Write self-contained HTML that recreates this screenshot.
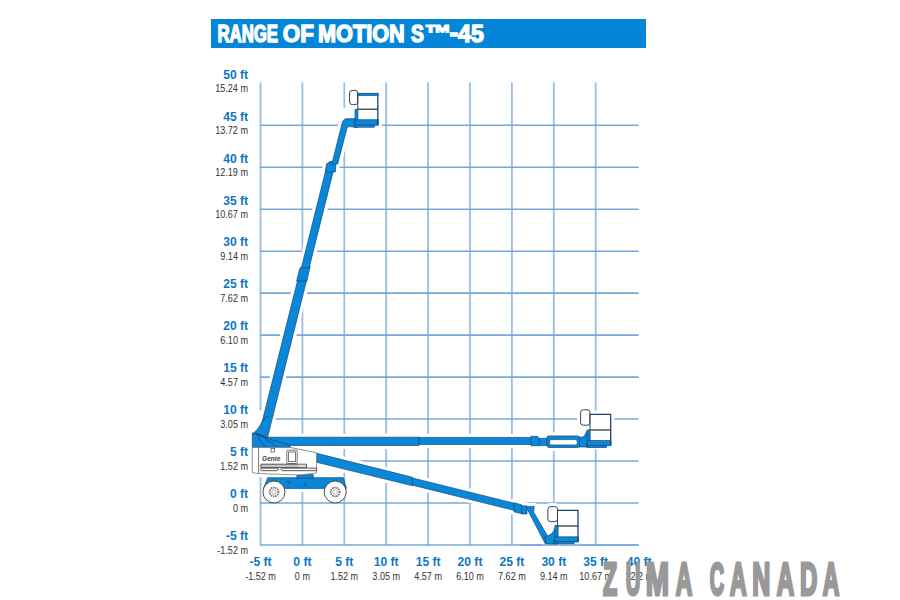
<!DOCTYPE html>
<html><head><meta charset="utf-8"><title>Range of Motion S-45</title>
<style>
html,body{margin:0;padding:0;background:#fff;width:900px;height:600px;overflow:hidden}
svg{display:block}
.ft{font-family:"Liberation Sans",sans-serif;font-weight:bold;font-size:12.5px;fill:#0c77c6}
.m{font-family:"Liberation Sans",sans-serif;font-size:10.8px;fill:#333}
text.nss,.nss text{vector-effect:non-scaling-stroke}
</style></head><body>
<svg width="900" height="600" viewBox="0 0 900 600"><rect x="211" y="19" width="435" height="29" fill="#0386d8"/><g font-family="Liberation Sans, sans-serif" fill="#fff" stroke="#fff" stroke-width="1.3" style="font-kerning:none" class="nss"><text transform="translate(217.43 41.65) scale(0.16774 0.24128)" font-size="100" font-weight="bold" >RANGE</text><text transform="translate(282.73 41.65) scale(0.22425 0.24128)" font-size="100" font-weight="bold" >OF</text><text transform="translate(318.00 41.65) scale(0.21706 0.24128)" font-size="100" font-weight="bold" >MOTION</text><text transform="translate(411.09 41.65) scale(0.19362 0.24128)" font-size="100" font-weight="bold" >S</text><text transform="translate(424.53 40.83) scale(0.27331 0.23004)" font-size="100" font-weight="bold" stroke-width="1.4">™</text><text transform="translate(449.52 40.98) scale(0.26388 0.25180)" font-size="100" font-weight="bold" >-</text><text transform="translate(458.10 41.65) scale(0.23192 0.23837)" font-size="100" font-weight="bold" >45</text></g><g stroke="#98bee6" stroke-width="1.8"><line x1="260.50" y1="82.6" x2="260.50" y2="545.6"/><line x1="302.40" y1="82.6" x2="302.40" y2="545.6"/><line x1="344.30" y1="82.6" x2="344.30" y2="545.6"/><line x1="386.20" y1="82.6" x2="386.20" y2="545.6"/><line x1="428.10" y1="82.6" x2="428.10" y2="545.6"/><line x1="470.00" y1="82.6" x2="470.00" y2="545.6"/><line x1="511.90" y1="82.6" x2="511.90" y2="545.6"/><line x1="553.80" y1="82.6" x2="553.80" y2="545.6"/><line x1="595.70" y1="82.6" x2="595.70" y2="545.6"/></g><g stroke="#76a8db" stroke-width="1.6"><line x1="259.90" y1="544.97" x2="638.7" y2="544.97"/><line x1="259.90" y1="503.00" x2="638.7" y2="503.00"/><line x1="259.90" y1="461.03" x2="638.7" y2="461.03"/><line x1="259.90" y1="419.06" x2="638.7" y2="419.06"/><line x1="259.90" y1="377.09" x2="638.7" y2="377.09"/><line x1="259.90" y1="335.12" x2="638.7" y2="335.12"/><line x1="259.90" y1="293.15" x2="638.7" y2="293.15"/><line x1="259.90" y1="251.18" x2="638.7" y2="251.18"/><line x1="259.90" y1="209.21" x2="638.7" y2="209.21"/><line x1="259.90" y1="167.24" x2="638.7" y2="167.24"/><line x1="259.90" y1="125.27" x2="638.7" y2="125.27"/></g><g><text transform="translate(248 540.27) scale(0.965 1.08)" text-anchor="end" class="ft">-5 ft</text><text transform="translate(248 554.07) scale(0.84 1)" text-anchor="end" class="m">-1.52 m</text><text transform="translate(248 498.30) scale(0.965 1.08)" text-anchor="end" class="ft">0 ft</text><text transform="translate(248 512.10) scale(0.84 1)" text-anchor="end" class="m">0 m</text><text transform="translate(248 456.33) scale(0.965 1.08)" text-anchor="end" class="ft">5 ft</text><text transform="translate(248 470.13) scale(0.84 1)" text-anchor="end" class="m">1.52 m</text><text transform="translate(248 414.36) scale(0.965 1.08)" text-anchor="end" class="ft">10 ft</text><text transform="translate(248 428.16) scale(0.84 1)" text-anchor="end" class="m">3.05 m</text><text transform="translate(248 372.39) scale(0.965 1.08)" text-anchor="end" class="ft">15 ft</text><text transform="translate(248 386.19) scale(0.84 1)" text-anchor="end" class="m">4.57 m</text><text transform="translate(248 330.42) scale(0.965 1.08)" text-anchor="end" class="ft">20 ft</text><text transform="translate(248 344.22) scale(0.84 1)" text-anchor="end" class="m">6.10 m</text><text transform="translate(248 288.45) scale(0.965 1.08)" text-anchor="end" class="ft">25 ft</text><text transform="translate(248 302.25) scale(0.84 1)" text-anchor="end" class="m">7.62 m</text><text transform="translate(248 246.48) scale(0.965 1.08)" text-anchor="end" class="ft">30 ft</text><text transform="translate(248 260.28) scale(0.84 1)" text-anchor="end" class="m">9.14 m</text><text transform="translate(248 204.51) scale(0.965 1.08)" text-anchor="end" class="ft">35 ft</text><text transform="translate(248 218.31) scale(0.84 1)" text-anchor="end" class="m">10.67 m</text><text transform="translate(248 162.54) scale(0.965 1.08)" text-anchor="end" class="ft">40 ft</text><text transform="translate(248 176.34) scale(0.84 1)" text-anchor="end" class="m">12.19 m</text><text transform="translate(248 120.57) scale(0.965 1.08)" text-anchor="end" class="ft">45 ft</text><text transform="translate(248 134.37) scale(0.84 1)" text-anchor="end" class="m">13.72 m</text><text transform="translate(248 78.60) scale(0.965 1.08)" text-anchor="end" class="ft">50 ft</text><text transform="translate(248 92.40) scale(0.84 1)" text-anchor="end" class="m">15.24 m</text><text transform="translate(260.50 566.2) scale(0.965 1.08)" text-anchor="middle" class="ft">-5 ft</text><text transform="translate(260.50 579.7) scale(0.84 1)" text-anchor="middle" class="m">-1.52 m</text><text transform="translate(302.40 566.2) scale(0.965 1.08)" text-anchor="middle" class="ft">0 ft</text><text transform="translate(302.40 579.7) scale(0.84 1)" text-anchor="middle" class="m">0 m</text><text transform="translate(344.30 566.2) scale(0.965 1.08)" text-anchor="middle" class="ft">5 ft</text><text transform="translate(344.30 579.7) scale(0.84 1)" text-anchor="middle" class="m">1.52 m</text><text transform="translate(386.20 566.2) scale(0.965 1.08)" text-anchor="middle" class="ft">10 ft</text><text transform="translate(386.20 579.7) scale(0.84 1)" text-anchor="middle" class="m">3.05 m</text><text transform="translate(428.10 566.2) scale(0.965 1.08)" text-anchor="middle" class="ft">15 ft</text><text transform="translate(428.10 579.7) scale(0.84 1)" text-anchor="middle" class="m">4.57 m</text><text transform="translate(470.00 566.2) scale(0.965 1.08)" text-anchor="middle" class="ft">20 ft</text><text transform="translate(470.00 579.7) scale(0.84 1)" text-anchor="middle" class="m">6.10 m</text><text transform="translate(511.90 566.2) scale(0.965 1.08)" text-anchor="middle" class="ft">25 ft</text><text transform="translate(511.90 579.7) scale(0.84 1)" text-anchor="middle" class="m">7.62 m</text><text transform="translate(553.80 566.2) scale(0.965 1.08)" text-anchor="middle" class="ft">30 ft</text><text transform="translate(553.80 579.7) scale(0.84 1)" text-anchor="middle" class="m">9.14 m</text><text transform="translate(595.70 566.2) scale(0.965 1.08)" text-anchor="middle" class="ft">35 ft</text><text transform="translate(595.70 579.7) scale(0.84 1)" text-anchor="middle" class="m">10.67 m</text><text transform="translate(639.20 566.2) scale(0.965 1.08)" text-anchor="middle" class="ft">40 ft</text><text transform="translate(639.20 579.7) scale(0.84 1)" text-anchor="middle" class="m">12.2 m</text></g><g fill="#fff" stroke="#fff" stroke-width="7" stroke-linejoin="round"><path d="M252.3 433.2 L266.8 437.2 L419 437.2 L419 445.4 L291 445.4 L289.5 447.4 L252.3 447.4 Z"/><path d="M419 437.4 L531.5 437.4 L531.5 444.5 L419 444.5 Z"/><path d="M531 436.3 L537.5 436.3 L539.5 438.5 L539.5 445.8 L531 445.8 Z"/><path d="M539 438.4 L548 438.4 L548 445.6 L539 445.6 Z"/><path d="M547 437 Q547 435.9 549 435.9 L577.5 435.9 Q580 435.9 580 438 L580 445.5 Q580 447.5 577.5 447.5 L549 447.5 Q547 447.5 547 445.5 Z"/><path d="M579.5 437.5 L584 436.5 L587 431 L590 429.8 L590 447 L579.5 447 Z"/><path d="M252.3 433.4 C255 432.5 259.5 428 262.60 420 L 297.45 281 L 306.45 281 L 267.6 437.3 Z"/><path d="M296.65 281 L299.90 268 L303.70 266 L310.20 266 L306.95 281 Z"/><path d="M301.30 268 L325.80 170 L333.60 170 L309.10 268 Z"/><path d="M325.3 172 L326.5 164 L330 161.5 L336 162 L335.3 172 Z"/><path d="M331.8 164 L341.7 125 Q342.6 119.3 346 118.7 L357.7 118.7 L357.7 127.8 L350.5 126.6 Q348 126.6 347.0 128 L337.7 164 Z"/><path d="M316.7 453.33 L412.5 477.28 L412.5 485.78 L316.7 462.33 Z"/><path d="M412.5 477.98 L514.5 503.28 L514.5 510.48 L412.5 485.18 Z"/><path d="M514.2 502.8 L521.5 504.8 L522.4 513.8 L514 511.8 Z"/><path d="M521.5 505.8 L527 506 L527 514 L522 514 Z"/><path d="M525.8 506.4 L534.3 506.4 L533.6 512 L547.3 535.6 L548.5 539.5 L545.5 544.2 Z"/><path d="M544.5 537 L549 535.3 Q553.5 533 554.5 529 L555.5 526 L557.8 525.5 L557.8 544 L546.5 544 Z"/><rect x="355" y="109.5" width="2.9" height="15.5"/><rect x="355" y="119.7" width="23.3" height="5.6"/><rect x="587" y="430" width="3" height="16"/><rect x="587" y="440.5" width="24" height="5.2"/><rect x="555" y="525.5" width="3" height="18"/><rect x="555" y="536.8" width="23.4" height="5.2"/><rect x="349.6" y="90.4" width="8.2" height="14.2" rx="2.6"/><rect x="357.7" y="93.8" width="20.100000000000023" height="26.200000000000003"/><rect x="580.6" y="409.8" width="9.3" height="15.4" rx="2.6"/><rect x="590" y="414.3" width="20.700000000000045" height="26.69999999999999"/><rect x="547.9" y="506.6" width="9.6" height="15.0" rx="2.6"/><rect x="557.5" y="510.4" width="20.5" height="26.600000000000023"/><path d="M252.2 447.4 L290 447.4 L316.6 452.8 L316.6 473 Q300 476 285 474.5 L258 473.5 L252.2 472.5 Z"/></g><rect x="300" y="486" width="5" height="6" fill="#fff"/><line x1="520" y1="544.97" x2="638.7" y2="544.97" stroke="#76a8db" stroke-width="1.6"/><g fill="#fff"><rect x="349.6" y="90.4" width="8.2" height="14.2" rx="2.6"/><rect x="357.7" y="93.8" width="20.100000000000023" height="26.200000000000003"/><rect x="580.6" y="409.8" width="9.3" height="15.4" rx="2.6"/><rect x="590" y="414.3" width="20.700000000000045" height="26.69999999999999"/><rect x="547.9" y="506.6" width="9.6" height="15.0" rx="2.6"/><rect x="557.5" y="510.4" width="20.5" height="26.600000000000023"/></g><g fill="#0a87d8" stroke="#16497a" stroke-width="0.7" stroke-linejoin="round"><path d="M252.3 433.2 L266.8 437.2 L419 437.2 L419 445.4 L291 445.4 L289.5 447.4 L252.3 447.4 Z"/><path d="M419 437.4 L531.5 437.4 L531.5 444.5 L419 444.5 Z"/><path d="M531 436.3 L537.5 436.3 L539.5 438.5 L539.5 445.8 L531 445.8 Z"/><path d="M539 438.4 L548 438.4 L548 445.6 L539 445.6 Z"/><path d="M547 437 Q547 435.9 549 435.9 L577.5 435.9 Q580 435.9 580 438 L580 445.5 Q580 447.5 577.5 447.5 L549 447.5 Q547 447.5 547 445.5 Z"/><path d="M579.5 437.5 L584 436.5 L587 431 L590 429.8 L590 447 L579.5 447 Z"/><path d="M252.3 433.4 C255 432.5 259.5 428 262.60 420 L 297.45 281 L 306.45 281 L 267.6 437.3 Z"/><path d="M296.65 281 L299.90 268 L303.70 266 L310.20 266 L306.95 281 Z"/><path d="M301.30 268 L325.80 170 L333.60 170 L309.10 268 Z"/><path d="M325.3 172 L326.5 164 L330 161.5 L336 162 L335.3 172 Z"/><path d="M331.8 164 L341.7 125 Q342.6 119.3 346 118.7 L357.7 118.7 L357.7 127.8 L350.5 126.6 Q348 126.6 347.0 128 L337.7 164 Z"/><path d="M316.7 453.33 L412.5 477.28 L412.5 485.78 L316.7 462.33 Z"/><path d="M412.5 477.98 L514.5 503.28 L514.5 510.48 L412.5 485.18 Z"/><path d="M514.2 502.8 L521.5 504.8 L522.4 513.8 L514 511.8 Z"/><path d="M521.5 505.8 L527 506 L527 514 L522 514 Z"/><path d="M525.8 506.4 L534.3 506.4 L533.6 512 L547.3 535.6 L548.5 539.5 L545.5 544.2 Z"/><path d="M544.5 537 L549 535.3 Q553.5 533 554.5 529 L555.5 526 L557.8 525.5 L557.8 544 L546.5 544 Z"/><rect x="355" y="109.5" width="2.9" height="15.5"/><rect x="355" y="119.7" width="23.3" height="5.6"/><rect x="587" y="430" width="3" height="16"/><rect x="587" y="440.5" width="24" height="5.2"/><rect x="555" y="525.5" width="3" height="18"/><rect x="555" y="536.8" width="23.4" height="5.2"/><path d="M267.7 477.7 L343.4 477.7 L346.5 488.4 L263.5 488.4 Z"/><rect x="296.9" y="474.6" width="16.3" height="3.6"/></g><g fill="none" stroke="#16497a" stroke-width="0.75"><path d="M256.5 433.8 Q260 441 265.5 447.3"/><path d="M257.5 433.6 Q268 439.5 276.5 446.9"/><path d="M257.6 433.8 Q272 440.5 290.5 445.6"/><path d="M254.4 432.8 L266.6 437.3"/><path d="M263.3 420.8 Q265 415.8 268.9 416.6"/></g><g fill="none" stroke="#16497a" stroke-width="0.7"><ellipse cx="289" cy="482.3" rx="1.7" ry="1.1"/><path d="M305.2 482.8 L306.6 485.3 L303.8 485.3 Z"/></g><rect x="549.6" y="439.6" width="27.6" height="5.4" rx="1.5" fill="#fff" stroke="#16497a" stroke-width="0.7"/><path d="M252.2 447.4 L290 447.4 L316.6 452.8 L316.6 473 Q300 476 285 474.5 L258 473.5 L252.2 472.5 Z" fill="#fff" stroke="#666" stroke-width="0.7"/><g fill="none" stroke="#555" stroke-width="0.8"><line x1="258.6" y1="448" x2="258.6" y2="473"/><rect x="286.8" y="450.2" width="10.4" height="13.3" rx="0.8"/><rect x="288.6" y="452" width="6.8" height="9.6"/><rect x="271" y="448.5" width="3.5" height="3.5"/></g><path d="M261 464.2 L306.5 464.2 L306.5 467.7 L261 467.7 Q260.2 466 261 464.2 Z" fill="#c4c4c4" stroke="#333" stroke-width="0.8"/><rect x="298.5" y="464.8" width="7.5" height="2.4" fill="#ddd"/><path d="M261.2 468.1 L277 468.1 L278.8 469.4 L277 470.7 L261.2 470.7 Q260.2 469.4 261.2 468.1 Z M282.6 468.1 L316.6 468.1 L316.6 470.7 L282.6 470.7 L280.8 469.4 Z" fill="#f4f4f4" stroke="#333" stroke-width="0.8"/><text x="262" y="461" font-family="Liberation Sans, sans-serif" font-size="6.6" fill="#444" font-weight="bold" font-style="italic">Genie</text><circle cx="274.0" cy="492" r="11.0" fill="#fff" stroke="#3a3a3a" stroke-width="0.9"/><circle cx="274.0" cy="492" r="4.4" fill="none" stroke="#666" stroke-width="1.8" stroke-dasharray="1.3 0.85"/><circle cx="274.0" cy="492" r="2.2" fill="#fff" stroke="#888" stroke-width="0.6"/><circle cx="335.2" cy="492" r="11.0" fill="#fff" stroke="#3a3a3a" stroke-width="0.9"/><circle cx="335.2" cy="492" r="4.4" fill="none" stroke="#666" stroke-width="1.8" stroke-dasharray="1.3 0.85"/><circle cx="335.2" cy="492" r="2.2" fill="#fff" stroke="#888" stroke-width="0.6"/><rect x="349.6" y="90.4" width="8.2" height="14.2" rx="2.6" fill="none" stroke="#2a3a50" stroke-width="0.95"/><path d="M357.7 93.8 L377.8 93.8 L377.8 124.5" fill="none" stroke="#1d4470" stroke-width="1.3"/><path d="M357.7 109.2 L377.8 109.2" stroke="#2c3440" stroke-width="1.25"/><path d="M357.7 93.8 L357.7 109.2" stroke="#2a3a50" stroke-width="0.9"/><rect x="354.8" y="124.9" width="19.5" height="2.299999999999997" fill="#0a87d8" stroke="#16497a" stroke-width="0.7"/><rect x="580.6" y="409.8" width="9.3" height="15.4" rx="2.6" fill="none" stroke="#2a3a50" stroke-width="0.95"/><path d="M590 414.3 L610.7 414.3 L610.7 445.5" fill="none" stroke="#1d4470" stroke-width="1.3"/><path d="M590 430 L610.7 430" stroke="#2c3440" stroke-width="1.25"/><path d="M590 414.3 L590 430" stroke="#2a3a50" stroke-width="0.9"/><rect x="587" y="445.6" width="19.5" height="2.0" fill="#0a87d8" stroke="#16497a" stroke-width="0.7"/><rect x="547.9" y="506.6" width="9.6" height="15.0" rx="2.6" fill="none" stroke="#2a3a50" stroke-width="0.95"/><path d="M557.5 510.4 L578 510.4 L578 541.5" fill="none" stroke="#1d4470" stroke-width="1.3"/><path d="M557.5 526 L578 526" stroke="#2c3440" stroke-width="1.25"/><path d="M557.5 510.4 L557.5 526" stroke="#2a3a50" stroke-width="0.9"/><rect x="553.5" y="541.8" width="20.5" height="2.0" fill="#0a87d8" stroke="#16497a" stroke-width="0.7"/><rect x="357.9" y="93.2" width="20.2" height="2.4" fill="#0a87d8" stroke="#16497a" stroke-width="0.6"/><rect x="258.8" y="410.5" width="3.4" height="8" fill="#fff"/><rect x="342.8" y="107.6" width="3" height="9" fill="#fff"/><g font-family="Liberation Sans, sans-serif" font-weight="bold" font-size="46.22" fill="#999" stroke="#999" stroke-width="3.2" stroke-linejoin="miter" style="vector-effect:non-scaling-stroke"><text transform="translate(602.90 594.70) scale(0.5017 1)">Z</text><text transform="translate(625.68 594.70) scale(0.4392 1)">U</text><text transform="translate(645.73 594.70) scale(0.6036 1)">M</text><text transform="translate(675.73 594.70) scale(0.4965 1)">A</text><text transform="translate(709.79 594.70) scale(0.4301 1)">C</text><text transform="translate(730.12 594.70) scale(0.4998 1)">A</text><text transform="translate(752.33 594.70) scale(0.5409 1)">N</text><text transform="translate(776.80 594.70) scale(0.5223 1)">A</text><text transform="translate(799.89 594.70) scale(0.5188 1)">D</text><text transform="translate(822.73 594.70) scale(0.4965 1)">A</text></g></svg>
</body></html>
